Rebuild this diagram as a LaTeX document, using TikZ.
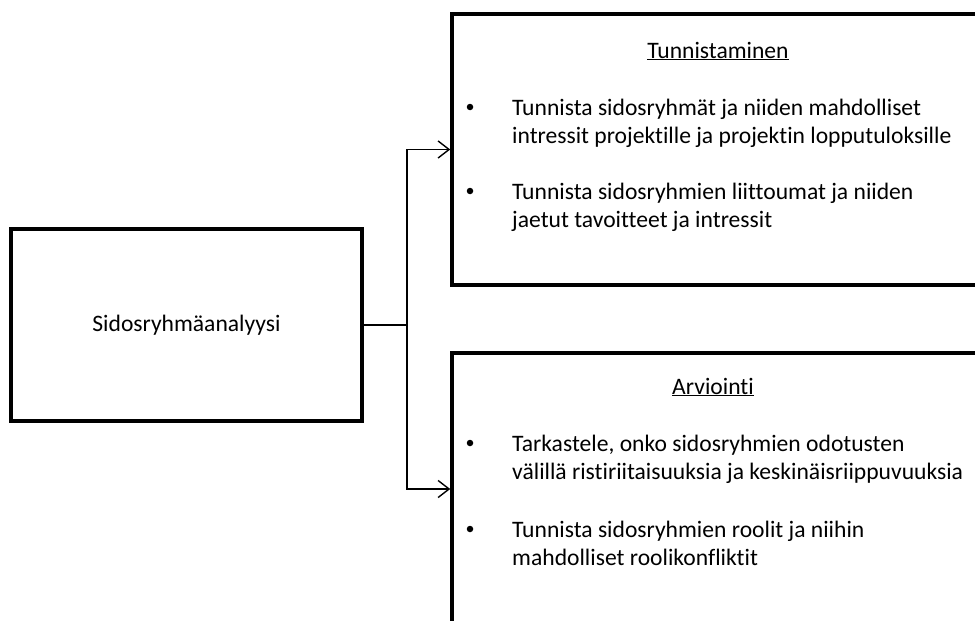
\documentclass[tikz,border=0pt]{standalone}
\usepackage{fontspec}
\setmainfont[Ligatures=CommonOff]{Carlito}
\usetikzlibrary{arrows.meta}
\begin{document}
\begin{tikzpicture}[x=1pt,y=-1pt,
  box/.style={draw=black,line width=3.5pt,fill=white,inner sep=0pt},
  link/.style={draw=black,line width=1.4pt},
  arr/.style={link,-{Straight Barb[length=11pt,width=17pt,line width=1.4pt]}},
  txt/.style={font=\fontsize{23.6}{28}\selectfont,inner sep=0pt},
  line/.style={txt,anchor=base west},
  dot/.style={circle,fill=black,inner sep=0pt,minimum size=6.5pt}]
\useasboundingbox (0,0) rectangle (975,621);
\begin{scope}
\clip (0,0) rectangle (975,621);
% main boxes
\node[box,minimum width=351pt,minimum height=192pt] (main) at (186.5,325) {};
\node[box,minimum width=580pt,minimum height=271pt] (ident) at (742,149.5) {};
\node[box,minimum width=580pt,minimum height=272pt] (eval) at (742,489) {};
\end{scope}
\node[txt] (mainlbl) at (main.center) {Sidosryhmäanalyysi};
% connectors
\coordinate (split) at (407,325);
\draw[link] (main.east) -- (split);
\draw[arr] (split) |- (ident.west);
\draw[arr] (split) |- (eval.west);
% identification box
\node[txt,anchor=base] (t1) at (718,58) {\underline{Tunnistaminen}};
\node[dot] (b1) at (470,107) {};
\node[line] (l1a) at (512,115) {Tunnista sidosryhmät ja niiden mahdolliset};
\node[line] (l1b) at (512,143) {intressit projektille ja projektin lopputuloksille};
\node[dot] (b2) at (470,191) {};
\node[line] (l2a) at (512,199) {Tunnista sidosryhmien liittoumat ja niiden};
\node[line] (l2b) at (512,227) {jaetut tavoitteet ja intressit};
% evaluation box
\node[txt,anchor=base] (t2) at (713,394) {\underline{Arviointi}};
\node[dot] (b3) at (470,443) {};
\node[line] (l3a) at (512,451) {Tarkastele, onko sidosryhmien odotusten};
\node[line] (l3b) at (512,479) {välillä ristiriitaisuuksia ja keskinäisriippuvuuksia};
\node[dot] (b4) at (470,529) {};
\node[line] (l4a) at (512,537) {Tunnista sidosryhmien roolit ja niihin};
\node[line] (l4b) at (512,565) {mahdolliset roolikonfliktit};
\end{tikzpicture}
\end{document}
